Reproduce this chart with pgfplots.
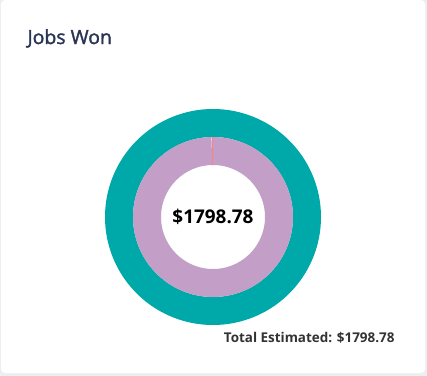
\documentclass[border=0pt]{standalone}
\usepackage{pgfplots}
\pgfplotsset{compat=1.18}
\usepackage{fontspec}
\setmainfont{Open Sans}
\newfontfamily\titlefont[FakeBold=1.6]{Open Sans}
\definecolor{ringteal}{HTML}{00A9A9}
\definecolor{ringpurple}{HTML}{C39FC7}
\definecolor{ringsalmon}{HTML}{F4858A}
\definecolor{titlecol}{HTML}{2B3553}
\definecolor{footcol}{HTML}{333333}
\definecolor{pagebg}{HTML}{ECEEF1}
% slice values
\def\outerA{1798.78}
\def\innerA{1798.78}
\def\innerB{5}
\begin{document}
\begin{tikzpicture}
\pgfmathsetmacro{\innerTot}{\innerA+\innerB}
\pgfmathsetmacro{\fracA}{\innerA/\innerTot}
\pgfmathsetmacro{\angA}{90-360*\fracA}
\begin{axis}[
  scale only axis, width=427bp, height=376bp,
  xmin=0, xmax=427, ymin=0, ymax=376, y dir=reverse,
  hide axis, clip=false,
]
\fill[pagebg] (axis cs:0,0) rectangle (axis cs:427,376);
\fill[white, rounded corners=4bp] (axis cs:1,0) rectangle (axis cs:425,373);
% outer ring: one slice
\addplot[ringteal, line width=28bp, line cap=butt, domain=0:362, samples=220, variable=\t]
  ({213+94*cos(t)}, {217-94*sin(t)});
% inner ring: two slices, clockwise from top
\addplot[ringpurple, line width=28bp, line cap=butt, domain=\angA:90, samples=220, variable=\t]
  ({213+66*cos(t)}, {217-66*sin(t)});
\addplot[ringsalmon, line width=28bp, line cap=butt, domain=-270:\angA, samples=3, variable=\t]
  ({213+66*cos(t)}, {217-66*sin(t)});
\node[anchor=base west, text=titlecol, font=\titlefont\fontsize{19.5}{21}\selectfont] at (axis cs:24,44) {Jobs Won};
\node[anchor=center, text=black, font=\fontsize{19}{22}\selectfont\bfseries] at (axis cs:213,217) {\$1798.78};
\node[anchor=base east, text=footcol, font=\fontsize{13.5}{15}\selectfont\bfseries] at (axis cs:398,342) {Total Estimated: \$1798.78};
\end{axis}
\end{tikzpicture}
\end{document}
